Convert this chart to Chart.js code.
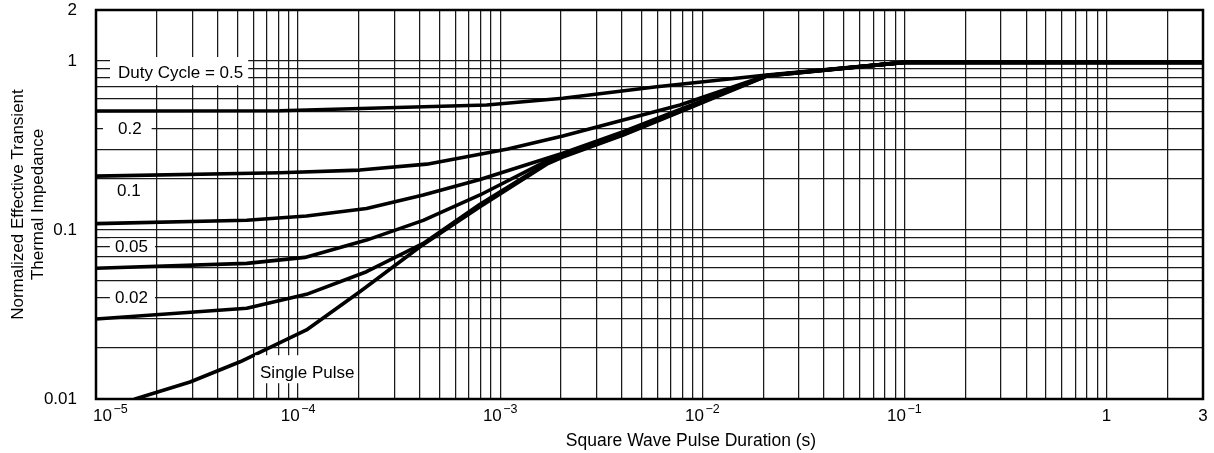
<!DOCTYPE html>
<html><head><meta charset="utf-8">
<script src="https://cdn.jsdelivr.net/npm/chart.js@4.4.1/dist/chart.umd.min.js"></script>
<style>html,body{margin:0;padding:0;background:#fff;}#wrap{width:1214px;height:453px;}</style>
</head><body><div id="wrap"><canvas id="c" width="1214" height="453"></canvas></div>
<script>
const FONT = "'Liberation Sans', Arial, Helvetica, sans-serif";

// ---- data: square wave pulse duration (s) vs normalized transient thermal impedance ----
const durSingle = [1.56e-5, 2.92e-5, 5.16e-5, 1.10e-4, 2.02e-4, 4.01e-4, 7.94e-4, 1.70e-3, 2.04e-3, 4.06e-3, 7.76e-3, 0.0208, 0.1, 3];
const zSingle   = [0.0100, 0.0126, 0.0166, 0.0256, 0.0431, 0.0795, 0.137, 0.245, 0.270, 0.364, 0.500, 0.814, 0.98, 0.98];

const durD002 = [1e-5, 5.57e-5, 1.10e-4, 2.18e-4, 4.16e-4, 7.94e-4, 1.70e-3, 2.04e-3, 4.06e-3, 7.76e-3, 0.0208, 0.1, 3];
const zD002   = [0.0297, 0.0344, 0.0416, 0.0566, 0.0833, 0.142, 0.249, 0.274, 0.367, 0.503, 0.819, 0.98, 0.98];

const durD005 = [1e-5, 5.57e-5, 1.08e-4, 2.18e-4, 4.16e-4, 7.94e-4, 1.70e-3, 2.04e-3, 4.06e-3, 7.76e-3, 0.0208, 0.1, 3];
const zD005   = [0.0593, 0.0634, 0.0688, 0.0871, 0.114, 0.161, 0.256, 0.277, 0.374, 0.508, 0.819, 0.98, 0.98];

const durD01 = [1e-5, 5.57e-5, 1.10e-4, 2.18e-4, 4.16e-4, 7.94e-4, 2.04e-3, 4.06e-3, 7.76e-3, 0.0208, 0.1, 3];
const zD01   = [0.109, 0.114, 0.121, 0.134, 0.161, 0.199, 0.284, 0.381, 0.517, 0.814, 0.98, 0.98];

const durD02 = [1e-5, 8.13e-5, 2.02e-4, 4.33e-4, 1.09e-3, 2.04e-3, 4.06e-3, 7.76e-3, 0.0208, 0.1, 3];
const zD02   = [0.208, 0.218, 0.226, 0.245, 0.301, 0.359, 0.447, 0.548, 0.819, 0.98, 0.98];

const durD05 = [1e-5, 8.13e-5, 8.57e-4, 2.04e-3, 5.95e-3, 0.0208, 0.1, 3];
const zD05   = [0.505, 0.507, 0.548, 0.601, 0.703, 0.825, 0.98, 0.98];

// ---- tick labels ----
const xLabelValues = [1e-5, 1e-4, 1e-3, 1e-2, 1e-1, 1, 3];
const xLabelBase   = ['10', '10', '10', '10', '10', '1', '3'];
const xLabelExp    = ['\u22125', '\u22124', '\u22123', '\u22122', '\u22121', '', ''];
const yLabelValues = [0.01, 0.1, 1, 2];
const yLabelTexts  = ['0.01', '0.1', '1', '2'];
const curveLabelTexts = ['Duty Cycle = 0.5', '0.2', '0.1', '0.05', '0.02', 'Single Pulse'];

// label placement (data coordinates) and white-box padding [left, top, right, bottom]
const labelPlacement = [
  {x: 1.285e-5, y: 0.859, pad: [8, 15, 5, 13]},
  {x: 1.285e-5, y: 0.40,  pad: [15, 10, 10, 10]},
  {x: 1.27e-5,  y: 0.172, pad: [8, 9, 8, 9]},
  {x: 1.24e-5,  y: 0.08,  pad: [5, 8, 7, 8]},
  {x: 1.24e-5,  y: 0.04,  pad: [5, 9, 7, 9]},
  {x: 6.48e-5,  y: 0.0144, pad: [5, 17, 2, 11]}
];

// grid values (1..9 per decade)
const xGrid = [];
for (let e = -5; e <= -1; e++) for (let m = 1; m <= 9; m++) xGrid.push(m * Math.pow(10, e));
xGrid.push(1, 2, 3);
const yGrid = [];
for (let e = -2; e <= -1; e++) for (let m = 1; m <= 9; m++) yGrid.push(m * Math.pow(10, e));
yGrid.push(1, 2);

function series(xs, ys) { return xs.map((x, i) => ({x: x, y: ys[i]})); }
function ds(label, xs, ys) {
  return {label: label, data: series(xs, ys), borderColor: '#000', borderWidth: 3.6,
    pointRadius: 0, tension: 0, fill: false, borderJoinStyle: 'round', borderCapStyle: 'round'};
}

const overlay = {
  id: 'overlay',
  afterDatasetsDraw(chart) {
    const {ctx, scales: {x, y}} = chart;
    ctx.save();
    ctx.font = '17px ' + FONT;
    ctx.textBaseline = 'middle';
    ctx.textAlign = 'left';
    curveLabelTexts.forEach((t, i) => {
      const p = labelPlacement[i];
      const px = x.getPixelForValue(p.x), py = y.getPixelForValue(p.y);
      const w = ctx.measureText(t).width;
      ctx.fillStyle = '#fff';
      ctx.fillRect(px - p.pad[0], py - p.pad[1], w + p.pad[0] + p.pad[2], p.pad[1] + p.pad[3]);
      ctx.fillStyle = '#000';
      ctx.fillText(t, px, py + 1);
    });
    ctx.restore();
  },
  afterDraw(chart) {
    const {ctx, chartArea: a, scales: {x}} = chart;
    ctx.save();
    // frame
    ctx.strokeStyle = '#000';
    ctx.lineWidth = 2.5;
    ctx.strokeRect(a.left, a.top, a.right - a.left, a.bottom - a.top);
    // x tick labels with superscript exponents
    ctx.fillStyle = '#000';
    ctx.textBaseline = 'alphabetic';
    ctx.textAlign = 'left';
    const baseFont = '17px ' + FONT, expFont = '12.5px ' + FONT;
    const baseY = a.bottom + 21.5;
    xLabelValues.forEach((v, i) => {
      const px = x.getPixelForValue(v);
      ctx.font = baseFont;
      const wb = ctx.measureText(xLabelBase[i]).width;
      ctx.font = expFont;
      const we = xLabelExp[i] ? ctx.measureText(xLabelExp[i]).width + 1.5 : 0;
      let left = px - (wb + we) / 2;
      if (i === 0) left = a.left - 3;
      ctx.font = baseFont;
      ctx.fillText(xLabelBase[i], left, baseY);
      if (xLabelExp[i]) {
        ctx.font = expFont;
        ctx.fillText(xLabelExp[i], left + wb + 1.5, baseY - 7.5);
      }
    });
    // x axis title
    ctx.font = '17.5px ' + FONT;
    ctx.textAlign = 'center';
    ctx.textBaseline = 'middle';
    ctx.fillText('Square Wave Pulse Duration (s)', 691, 441);
    ctx.restore();
  }
};

const gridStyle = {color: '#1a1a1a', lineWidth: 1.25, drawTicks: false};

new Chart(document.getElementById('c'), {
  type: 'line',
  data: {
    datasets: [
      ds('Duty Cycle = 0.5', durD05, zD05),
      ds('0.2', durD02, zD02),
      ds('0.1', durD01, zD01),
      ds('0.05', durD005, zD005),
      ds('0.02', durD002, zD002),
      ds('Single Pulse', durSingle, zSingle)
    ]
  },
  options: {
    responsive: false,
    animation: false,
    events: [],
    layout: {padding: {top: 10, right: 11, left: 0, bottom: 0}},
    plugins: {legend: {display: false}, tooltip: {enabled: false}},
    scales: {
      x: {
        type: 'logarithmic', min: 1e-5, max: 3,
        afterBuildTicks: s => { s.ticks = xGrid.map(v => ({value: v})); },
        afterFit: s => { s.height = 54; s.paddingLeft = 0; s.paddingRight = 0; },
        ticks: {display: false, autoSkip: false},
        grid: gridStyle,
        border: {display: false},
        title: {display: false}
      },
      y: {
        type: 'logarithmic', min: 0.01, max: 2,
        afterBuildTicks: s => { s.ticks = yGrid.map(v => ({value: v})); },
        afterFit: s => { s.width = 96; s.paddingTop = 0; s.paddingBottom = 0; },
        ticks: {
          autoSkip: false, padding: 19, color: '#000',
          font: {family: FONT, size: 17, lineHeight: 1},
          callback: (v) => {
            const i = yLabelValues.findIndex(t => Math.abs(t - v) / t < 1e-6);
            return i >= 0 ? yLabelTexts[i] : '';
          }
        },
        grid: gridStyle,
        border: {display: false},
        title: {
          display: true, color: '#000',
          text: ['Normalized Effective Transient', 'Thermal Impedance'],
          font: {family: FONT, size: 17},
          padding: {top: 8, bottom: 0}
        }
      }
    }
  },
  plugins: [overlay]
});
</script>
</body></html>
